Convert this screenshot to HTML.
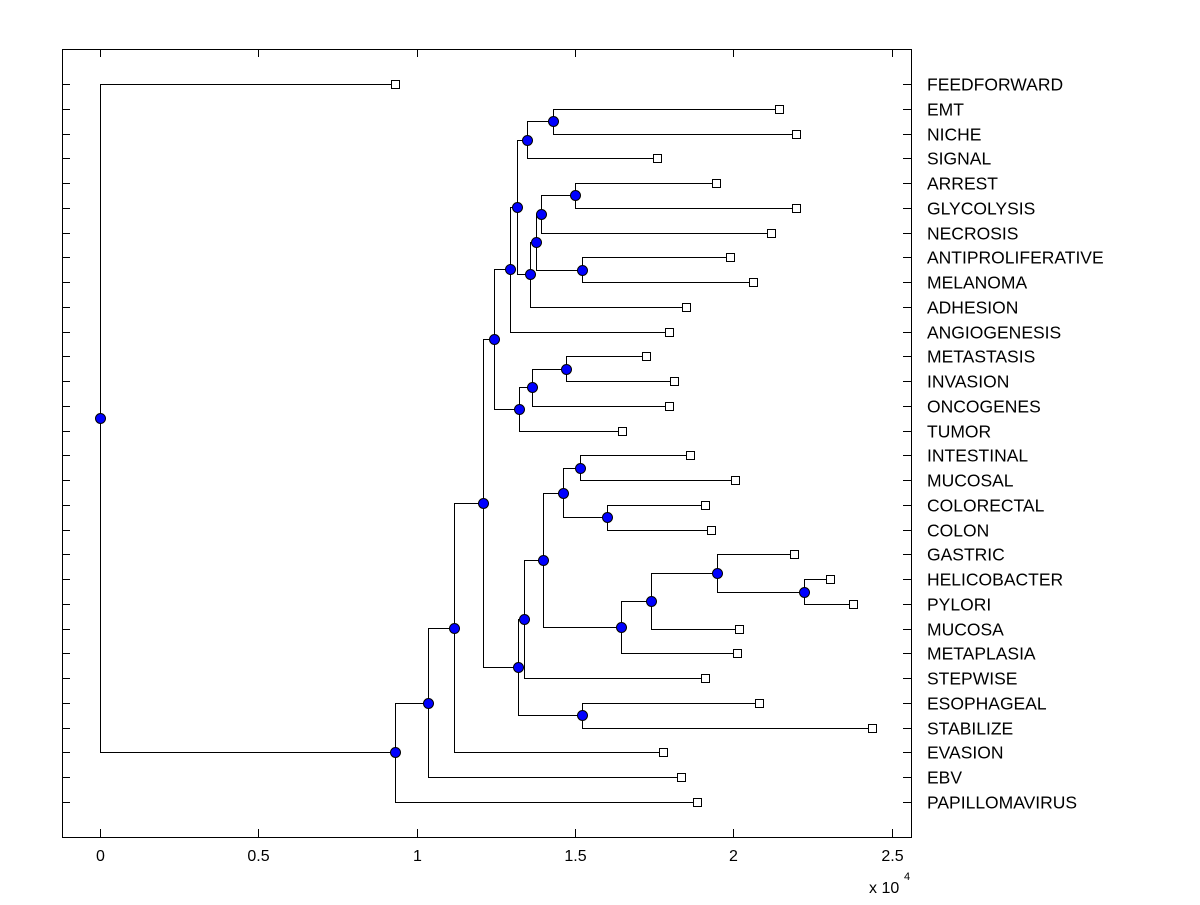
<!DOCTYPE html>
<html><head><meta charset="utf-8"><style>
body{margin:0;background:#fff;width:1200px;height:900px;overflow:hidden}
svg{font-family:"Liberation Sans",Arial,sans-serif}
</style></head><body>
<svg id="chart" width="1200" height="900" xmlns="http://www.w3.org/2000/svg">
<rect x="0" y="0" width="1200" height="900" fill="#fff"/>
<g id="marks"></g>
</svg>
<script>
const leafNames = ["FEEDFORWARD","EMT","NICHE","SIGNAL","ARREST","GLYCOLYSIS","NECROSIS","ANTIPROLIFERATIVE","MELANOMA","ADHESION","ANGIOGENESIS","METASTASIS","INVASION","ONCOGENES","TUMOR","INTESTINAL","MUCOSAL","COLORECTAL","COLON","GASTRIC","HELICOBACTER","PYLORI","MUCOSA","METAPLASIA","STEPWISE","ESOPHAGEAL","STABILIZE","EVASION","EBV","PAPILLOMAVIRUS"];
const leafValues = [0.932,2.145,2.198,1.759,1.946,2.198,2.119,1.99,2.063,1.851,1.797,1.725,1.813,1.797,1.649,1.864,2.006,1.911,1.93,2.192,2.306,2.378,2.018,2.012,1.911,2.081,2.438,1.778,1.835,1.886];
// internal nodes: ids start at 30
const nodeLeft   = [1, 30, 4, 32, 7, 33, 35, 31, 37, 11, 39, 40, 38, 15, 17, 43, 20, 19, 47, 48, 45, 50, 25, 51, 42, 54, 55, 56, 0];
const nodeRight  = [2, 3, 5, 6, 8, 34, 9, 36, 10, 12, 13, 14, 41, 16, 18, 44, 21, 46, 22, 23, 49, 24, 26, 52, 53, 27, 28, 29, 57];
const nodeHeight = [1.431,1.349,1.500,1.393,1.522,1.377,1.358,1.317,1.295,1.472,1.364,1.323,1.244,1.516,1.602,1.462,2.224,1.949,1.740,1.646,1.399,1.339,1.522,1.320,1.210,1.118,1.036,0.932,0];
const xTicks = [0,0.5,1,1.5,2,2.5];
const xTickLabels = ["0","0.5","1","1.5","2","2.5"];

const L=62,R=911,T=49,B=837;
const xScale = v => 100 + v*316.6;
const rowY = i => 84 + i*(718/29);
const NS="http://www.w3.org/2000/svg";
const g=document.getElementById('marks');
function mk(tag,attrs){const e=document.createElementNS(NS,tag);for(const k in attrs)e.setAttribute(k,attrs[k]);g.appendChild(e);return e;}

let box=mk('rect',{x:L+0.5,y:T+0.5,width:R-L,height:B-T,fill:'none',stroke:'#000','stroke-width':1});



xTicks.forEach((t,i)=>{
  const x=Math.round(xScale(t))+0.5;
  let a=mk('line',{x1:x,y1:B,x2:x,y2:B-8,stroke:'#000'});
  
  
  let b=mk('line',{x1:x,y1:T,x2:x,y2:T+8,stroke:'#000'});
  
  
  let tx=mk('text',{x:x,y:861,'font-size':16,'text-anchor':'middle',fill:'#000'});
  tx.textContent=xTickLabels[i];
  
  
});
let ex=mk('text',{x:869,y:893,'font-size':16,fill:'#000'});
ex.textContent='x 10';


let ex2=mk('text',{x:904,y:880,'font-size':11,fill:'#000'});
ex2.textContent='4';



leafNames.forEach((n,i)=>{
  const y=Math.round(rowY(i))+0.5;
  let a=mk('line',{x1:L,y1:y,x2:L+8,y2:y,stroke:'#000'});
  
  
  let b=mk('line',{x1:R,y1:y,x2:R-8,y2:y,stroke:'#000'});
  
  
  let t=mk('text',{x:927,y:y+6,'font-size':17.5,fill:'#000'});
  t.textContent=n;
  
  
});

const N=leafNames.length;
const pos={};
for(let i=0;i<N;i++)pos[i]={x:xScale(leafValues[i]),y:rowY(i)};
for(let k=0;k<nodeLeft.length;k++){
  const a=pos[nodeLeft[k]],b=pos[nodeRight[k]];
  pos[N+k]={x:xScale(nodeHeight[k]),y:(a.y+b.y)/2};
}
for(let k=0;k<nodeLeft.length;k++){
  const p=pos[N+k];
  [nodeLeft[k],nodeRight[k]].forEach(c=>{
    const q=pos[c];
    const px=Math.round(p.x)+0.5,py=Math.round(p.y)+0.5,qy=Math.round(q.y)+0.5,qx=Math.round(q.x)+0.5;
    let l=mk('polyline',{points:`${px},${py} ${px},${qy} ${qx},${qy}`,fill:'none',stroke:'#000','stroke-width':1});
    
    
  });
}
for(let i=0;i<N;i++){
  const p=pos[i];
  let r=mk('rect',{x:Math.round(p.x)-4+0.5,y:Math.round(p.y)-4+0.5,width:8,height:8,fill:'#fff',stroke:'#000'});
  
  
}
for(let k=0;k<nodeLeft.length;k++){
  const p=pos[N+k];
  let c=mk('circle',{cx:Math.round(p.x)+0.5,cy:Math.round(p.y)+0.5,r:5,fill:'#0000ff',stroke:'#000','stroke-width':1});
  
  
}
</script>
</body></html>
